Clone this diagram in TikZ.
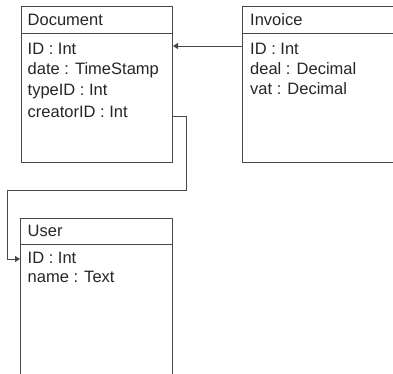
\documentclass[tikz,border=0pt]{standalone}
\usepackage{fontspec}
\setmainfont{Liberation Sans}
\usetikzlibrary{arrows.meta}
\definecolor{edge}{RGB}{72,72,72}
\tikzset{
  entity/.style={draw=edge, line width=1pt, fill=white, rectangle, inner sep=0pt, anchor=north west},
  field/.style={anchor=base west, inner sep=0pt, font=\fontsize{16.5}{19}\selectfont, text=black!85},
  divider/.style={draw=edge, line width=1pt},
  link/.style={draw=edge, line width=1pt, -{Triangle[length=5pt,width=6pt]}},
}
\begin{document}
\begin{tikzpicture}[x=1pt,y=-1pt]
\useasboundingbox (0,0) rectangle (393,373);
\clip (0,0) rectangle (393,373);

% Document table
\node[entity, minimum width=151pt, minimum height=156pt] (doc) at (21,6) {};
\draw[divider] (21,33) -- (172,33);
\node[field] (doctitle) at (27.5,25.5) {Document};
\node[field] (docid) at (27.5,54) {ID : Int};
\node[field] (docdate) at (27.5,74.5) {date : TimeStamp};
\node[field] (doctype) at (27.5,95.5) {typeID : Int};
\node[field] (doccreator) at (27.5,117) {creatorID : Int};

% Invoice table (runs past the right edge)
\node[entity, minimum width=170pt, minimum height=156pt] (inv) at (242,6) {};
\draw[divider] (242,33) -- (412,33);
\node[field] (invtitle) at (250,25) {Invoice};
\node[field] (invid) at (250,54) {ID : Int};
\node[field] (invdeal) at (250,74) {deal : Decimal};
\node[field] (invvat) at (250,94) {vat : Decimal};

% User table (runs past the bottom edge)
\node[entity, minimum width=152pt, minimum height=170pt] (user) at (20,218) {};
\draw[divider] (20,244) -- (172,244);
\node[field] (usertitle) at (27.5,236) {User};
\node[field] (userid) at (27.5,263) {ID : Int};
\node[field] (username) at (27.5,282) {name : Text};

% Relations
\draw[link] ([yshift=-40pt]inv.north west) -- ([yshift=-40pt]doc.north east);
\coordinate (bendA) at (186,190);
\coordinate (bendB) at (7,190);
\draw[link] ([yshift=-110pt]doc.north east) -| (bendA) -- (bendB) |- ([yshift=-41pt]user.north west);
\end{tikzpicture}
\end{document}
